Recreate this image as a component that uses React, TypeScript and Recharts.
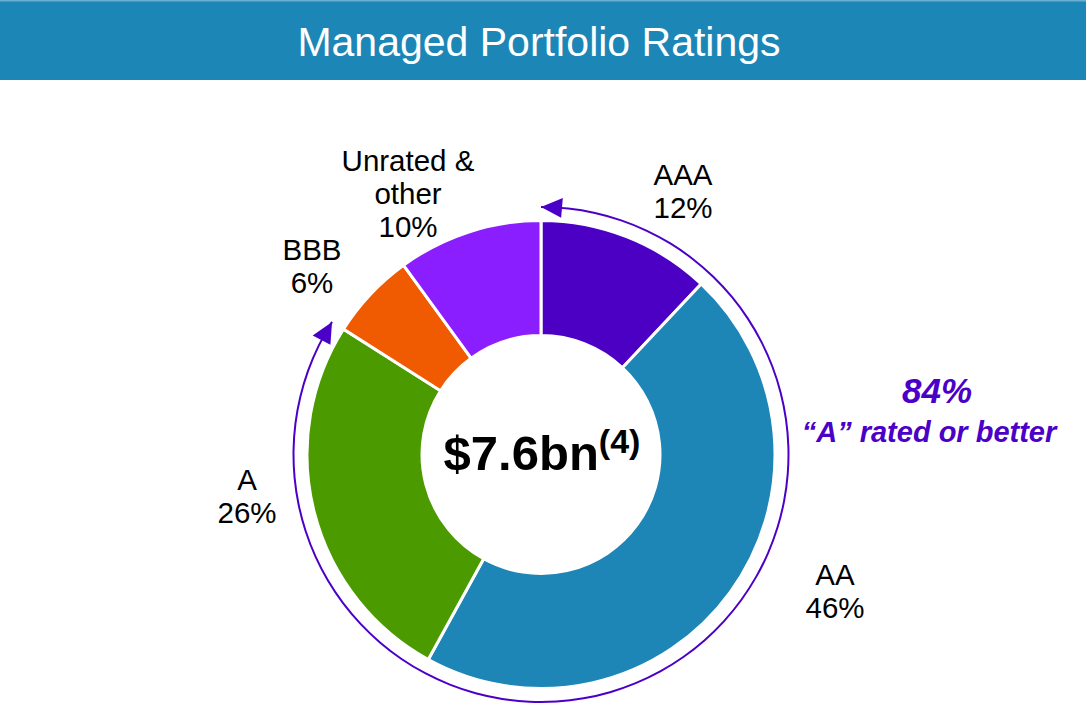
import { PieChart, Pie, Cell } from "recharts";

const ratings = ["AAA", "AA", "A", "BBB", "Unrated &\nother"];
const shares = [12, 46, 26, 6, 10];
const sliceColors = ["#4b00c3", "#1d86b6", "#4a9a00", "#f05a00", "#8b1eff"];
// first-line baseline of each slice label
const labelAt: [number, number][] = [
  [683, 185],
  [835, 585],
  [247, 490],
  [312, 260],
  [408, 171],
];
const aOrBetter = shares[0] + shares[1] + shares[2];

const W = 1086;
const H = 704;
const CX = 541;
const CY = 454.5;
const OUTER = 234;
const INNER = 119;
const ARC_R = 247.5;
const PURPLE = "#4b00c8";
const FONT = "'Liberation Sans', Arial, Helvetica, sans-serif";

const data = ratings.map((name, i) => ({ name, value: shares[i] }));
const arcData = [
  { name: "A or better", value: aOrBetter },
  { name: "rest", value: 100 - aOrBetter },
];

function polar(r: number, deg: number): [number, number] {
  const rad = (deg * Math.PI) / 180;
  return [CX + r * Math.cos(rad), CY - r * Math.sin(rad)];
}

// arrowhead on the arc: tip at angle `tip`, pointing toward increasing (dir=1) or decreasing (dir=-1) angle
function arrowHead(tip: number, dir: number) {
  const len = 21;
  const half = 10;
  const base = tip - dir * (len / ARC_R) * (180 / Math.PI);
  const p1 = polar(ARC_R, tip);
  const p2 = polar(ARC_R + half, base);
  const p3 = polar(ARC_R - half, base);
  return `${p1[0]},${p1[1]} ${p2[0]},${p2[1]} ${p3[0]},${p3[1]}`;
}

const renderLabel = (props: any) => {
  const i = props.index;
  const [x, y] = labelAt[i];
  const lines = [...ratings[i].split("\n"), `${shares[i]}%`];
  return (
    <text
      key={`lbl-${i}`}
      x={x}
      y={y}
      textAnchor="middle"
      fontFamily={FONT}
      fontSize={29.5}
      fill="#000"
    >
      {lines.map((l, k) => (
        <tspan key={k} x={x} dy={k === 0 ? 0 : 33}>
          {l}
        </tspan>
      ))}
    </text>
  );
};

export default function App() {
  const startTip = 90;
  const endTip = 90 - (360 * aOrBetter) / 100;

  return (
    <div
      style={{
        position: "absolute",
        left: 0,
        top: 0,
        width: W,
        height: H,
        background: "#fff",
      }}
    >
      <PieChart width={W} height={H} margin={{ top: 0, right: 0, bottom: 0, left: 0 }}>
        <Pie
          data={arcData}
          dataKey="value"
          cx={CX}
          cy={CY}
          innerRadius={ARC_R - 1}
          outerRadius={ARC_R + 1}
          startAngle={90}
          endAngle={-270}
          stroke="none"
          isAnimationActive={false}
        >
          <Cell fill={PURPLE} />
          <Cell fill="none" />
        </Pie>
        <Pie
          data={data}
          dataKey="value"
          cx={CX}
          cy={CY}
          innerRadius={INNER}
          outerRadius={OUTER}
          startAngle={90}
          endAngle={-270}
          stroke="#fff"
          strokeWidth={3}
          label={renderLabel}
          labelLine={false}
          isAnimationActive={false}
        >
          {data.map((d, i) => (
            <Cell key={d.name} fill={sliceColors[i]} />
          ))}
        </Pie>
      </PieChart>

      <svg
        width={W}
        height={H}
        style={{ position: "absolute", left: 0, top: 0, pointerEvents: "none" }}
      >
        <rect x={0} y={0} width={W} height={80} fill="#1c86b6" />
        <rect x={0} y={0} width={W} height={1.5} fill="#6aaed2" />
        <text
          x={W / 2 - 4}
          y={56}
          textAnchor="middle"
          fontFamily={FONT}
          fontSize={41}
          fill="#fff"
        >
          Managed Portfolio Ratings
        </text>

        <polygon points={arrowHead(startTip, 1)} fill={PURPLE} />
        <polygon points={arrowHead(endTip, -1)} fill={PURPLE} />

        <text
          x={CX + 1}
          y={470}
          textAnchor="middle"
          fontFamily={FONT}
          fontWeight="bold"
          fill="#000"
        >
          <tspan fontSize={49}>$7.6bn</tspan>
          <tspan fontSize={34} dy={-17}>
            (4)
          </tspan>
        </text>

        <text
          x={937}
          y={403}
          textAnchor="middle"
          fontFamily={FONT}
          fontWeight="bold"
          fontStyle="italic"
          fontSize={35}
          fill={PURPLE}
        >
          {`${aOrBetter}%`}
        </text>
        <text
          x={929}
          y={442}
          textAnchor="middle"
          fontFamily={FONT}
          fontWeight="bold"
          fontStyle="italic"
          fontSize={29}
          fill={PURPLE}
        >
          “A” rated or better
        </text>
      </svg>
    </div>
  );
}
